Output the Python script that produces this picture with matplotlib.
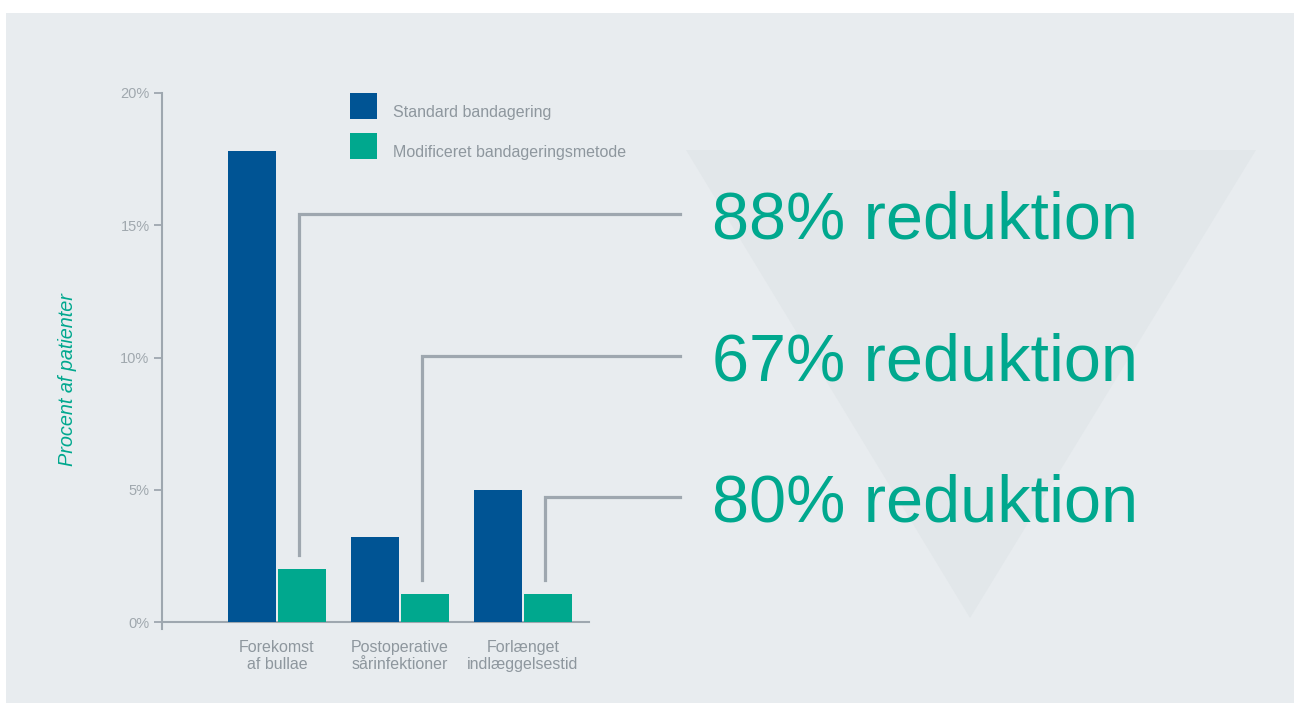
import matplotlib.pyplot as plt
import numpy as np
from matplotlib.patches import Polygon, Rectangle

plt.rcParams['font.family'] = ['Liberation Sans', 'DejaVu Sans']

# data
categories = ['Forekomst\naf bullae', 'Postoperative\nsårinfektioner', 'Forlænget\nindlæggelsestid']
standard = [17.8, 3.2, 5.0]
modified = [2.0, 1.05, 1.05]
reductions = ['88% reduktion', '67% reduktion', '80% reduktion']
series_names = ['Standard bandagering', 'Modificeret bandageringsmetode']
yticks = [0, 5, 10, 15, 20]

# layout / style
callout_y = [15.43, 10.06, 4.73]
BLUE = '#005494'
TEAL = '#00A88E'
GREY = '#9EA7AF'
TXT = '#8E979E'
BG = '#E8ECEF'

W, H = 1294, 704
fig = plt.figure(figsize=(W / 100, H / 100), dpi=100)
fig.patch.set_facecolor('white')

# background panel + triangle, in pixel coords
bg = fig.add_axes([0, 0, 1, 1])
bg.set_xlim(0, W)
bg.set_ylim(H, 0)
bg.axis('off')
bg.add_patch(Rectangle((6, 13), W - 6, 690, color=BG, lw=0))
bg.add_patch(Polygon([(686, 150), (1256, 150), (970, 618)], closed=True, color='#E2E7EA', lw=0))

# legend (drawn by hand, pixel coords)
for i, (name, col) in enumerate(zip(series_names, [BLUE, TEAL])):
    top = 93 + 40 * i
    bg.add_patch(Rectangle((350, top), 27, 26, color=col, lw=0))
    bg.text(393, top + 18, name, color=TXT, fontsize=11.5, va='center_baseline', ha='left')

# chart axes
x0, x1 = 162, 589
y0, y1 = 622, 93
ax = fig.add_axes([x0 / W, (H - y0) / H, (x1 - x0) / W, (y0 - y1) / H])
ax.set_facecolor('none')
ax.set_xlim(-0.935, 2.537)
ax.set_ylim(0, 20)

x = np.arange(len(categories))
w = 0.39
ax.bar(x - 0.2, standard, width=w, color=BLUE, label=series_names[0], zorder=3)
ax.bar(x + 0.2, modified, width=w, color=TEAL, label=series_names[1], zorder=3)

for s in ['top', 'right']:
    ax.spines[s].set_visible(False)
for s in ['left', 'bottom']:
    ax.spines[s].set_color(GREY)
    ax.spines[s].set_linewidth(1.5)
ax.spines['left'].set_bounds(-0.27, 20)

ax.set_yticks(yticks)
ax.set_yticklabels([f'{v}%' for v in yticks])
ax.tick_params(axis='y', length=6, width=1.3, color=GREY, labelcolor='#A0A8AE', labelsize=10.5, pad=3)
ax.set_xticks(x)
ax.set_xticklabels(categories, linespacing=1.2)
ax.tick_params(axis='x', length=0, labelcolor=TXT, labelsize=11.5, pad=13)

ax.set_ylabel('Procent af patienter', color=TEAL, style='italic', fontsize=14.3)
ax.yaxis.set_label_coords((77 - x0) / (x1 - x0), (y0 - 380) / (y0 - y1))

# callout lines and big labels
x_end = (680 - 277) / 123
x_txt = (712 - 277) / 123
for i in range(len(categories)):
    xv = x[i] + 0.18
    ax.plot([xv, xv, x_end], [modified[i] + 0.53, callout_y[i], callout_y[i]],
            color=GREY, lw=2.3, clip_on=False, solid_joinstyle='miter', zorder=4)
    ax.text(x_txt, callout_y[i] - 0.93, reductions[i], color=TEAL, fontsize=48,
            va='baseline', ha='left', clip_on=False, zorder=5)

fig.savefig('out.png', dpi=100, facecolor=fig.get_facecolor())
